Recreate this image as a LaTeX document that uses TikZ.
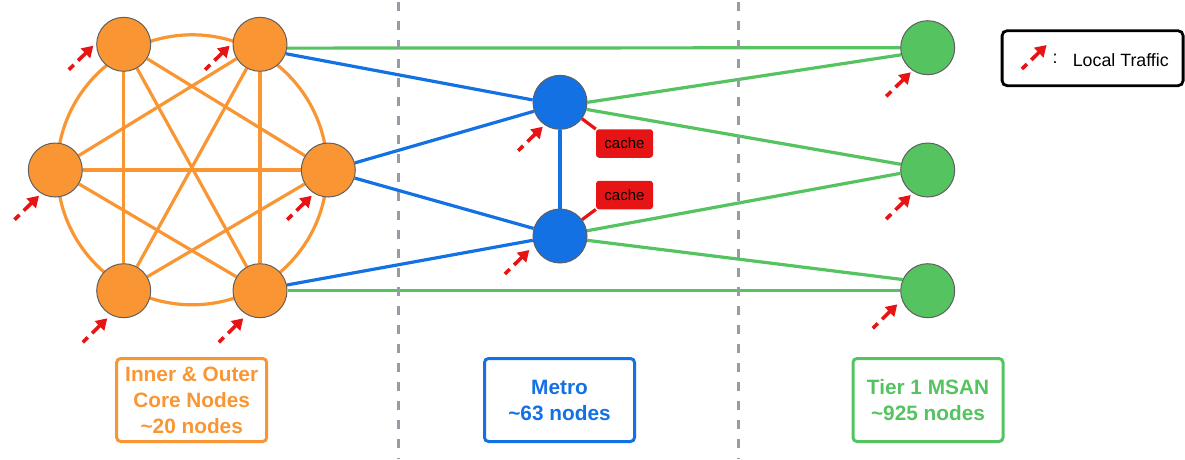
\documentclass[tikz,border=0pt]{standalone}
\usepackage{fontspec}
\setmainfont{Liberation Sans}
\usetikzlibrary{arrows.meta,backgrounds}

\definecolor{coreorange}{RGB}{249,150,51}
\definecolor{metroblue}{RGB}{20,113,227}
\definecolor{msangreen}{RGB}{84,195,96}
\definecolor{trafficred}{RGB}{230,20,20}
\definecolor{divider}{RGB}{150,155,165}
\definecolor{rimgray}{RGB}{95,95,95}

% local traffic arrow ending at an offset (dx,dy) from a node centre
\newcommand\inflow[3]{%
  \draw[traffic] ([shift={(#2-24.5,#3+24)}]#1.center) -- ([shift={(#2,#3)}]#1.center);}

\begin{document}
\begin{tikzpicture}[x=1pt,y=-1pt,
  site/.style={circle,draw=rimgray,line width=1pt,minimum size=54pt,inner sep=0pt},
  core/.style={site,fill=coreorange},
  metro/.style={site,fill=metroblue},
  msan/.style={site,fill=msangreen},
  link/.style={line width=3.2pt},
  corelink/.style={link,draw=coreorange},
  metrolink/.style={link,draw=metroblue},
  msanlink/.style={link,draw=msangreen},
  cachelink/.style={link,draw=trafficred},
  cachebox/.style={fill=trafficred,rounded corners=3pt,minimum width=57pt,
    minimum height=28.5pt,inner sep=0pt,font=\fontsize{15}{17}\selectfont},
  tierbox/.style={draw=#1,text=#1,line width=3pt,rounded corners=4pt,
    minimum width=150pt,minimum height=83pt,align=center,
    font=\bfseries\fontsize{20.8}{26}\selectfont},
  traffic/.style={draw=trafficred,line width=3.6pt,
    dash pattern=on 7pt off 6pt on 30pt off 1pt,
    -{Triangle[length=11pt,width=13pt]}},
  divide/.style={draw=divider,line width=3pt,dash pattern=on 9pt off 10pt},
]
\useasboundingbox (0,0) rectangle (1185,459);

% tier dividers
\coordinate (d1top) at (398,2);
\coordinate (d1bot) at (398,459);
\coordinate (d2top) at (738,2);
\coordinate (d2bot) at (738,459);
\draw[divide] (d1top) -- (d1bot);
\draw[divide] (d2top) -- (d2bot);

% core ring
\node[core] (o1) at (123.7,44.3) {};
\node[core] (o2) at (260,44.3) {};
\node[core] (o3) at (328.3,170) {};
\node[core] (o4) at (55.3,170) {};
\node[core] (o5) at (123.7,290.7) {};
\node[core] (o6) at (260,290.7) {};
\coordinate (ring) at (192.2,169.8);

% metro
\node[metro] (m1) at (560,102.3) {};
\node[metro] (m2) at (560,236) {};
\node[cachebox] (c1) at (624.5,143.5) {cache};
\node[cachebox] (c2) at (624.5,195) {cache};

% tier 1 MSAN
\node[msan] (g1) at (927.7,47.7) {};
\node[msan] (g2) at (927.7,170) {};
\node[msan] (g3) at (927.7,290.7) {};

\begin{scope}[on background layer]
  \draw[corelink] (ring) circle[radius=135];
  \foreach \a/\b in {o1/o5,o2/o6,o4/o3,o1/o3,o1/o6,o2/o4,o2/o5,o5/o3,o6/o4}
    \draw[corelink] (\a) -- (\b);
  \draw[msanlink] (o2.-8) -- (g1.west);
  \draw[msanlink] (o6.east) -- (g3.west);
  \draw[msanlink] (m1.east) -- (g1.195);
  \draw[msanlink] (m1.-15) -- (g2.168);
  \draw[msanlink] (m2.11) -- (g2.187);
  \draw[msanlink] (m2.-9) -- (g3.156);
  \draw[metrolink] (o2.-20) -- (m1.175);
  \draw[metrolink] (o3.15) -- (m1.199);
  \draw[metrolink] (o3.-17) -- (m2.164);
  \draw[metrolink] (o6.12) -- (m2.189);
  \draw[metrolink] (m1.south) -- (m2.north);
  \draw[cachelink] (m1) -- (c1.north west);
  \draw[cachelink] (m2) -- (c2.south west);
\end{scope}

% local traffic feeding each node
\inflow{o1}{-30.4}{1.4}
\inflow{o2}{-30.4}{1.4}
\inflow{o4}{-16.3}{25.7}
\inflow{o3}{-16.6}{25.7}
\inflow{o5}{-16.4}{27.6}
\inflow{o6}{-16.7}{27.6}
\inflow{m1}{-17.3}{24.4}
\inflow{m2}{-30.7}{14}
\inflow{g1}{-17}{24.6}
\inflow{g2}{-17}{25}
\inflow{g3}{-30.4}{13.6}

% tier captions
\node[tierbox=coreorange] (corelabel) at (191.7,400)
  {Inner \& Outer\\Core Nodes\\\textasciitilde20 nodes};
\node[tierbox=metroblue] (metrolabel) at (559.5,400)
  {Metro\\\textasciitilde63 nodes};
\node[tierbox=msangreen] (msanlabel) at (928,400)
  {Tier 1 MSAN\\\textasciitilde925 nodes};

% legend
\node[draw=black,line width=2.8pt,rounded corners=5pt,minimum width=181pt,
  minimum height=55pt,inner sep=0pt] (legend) at (1092.6,58.2) {};
\draw[traffic] ([shift={(-70.7,10.8)}]legend.center) -- ([shift={(-46,-13.2)}]legend.center);
\node[inner sep=0pt,font=\fontsize{17.8}{20}\selectfont] (legendcolon)
  at ([shift={(-37.6,1)}]legend.center) {:};
\node[anchor=west,inner sep=0pt,font=\fontsize{17.8}{20}\selectfont] (legendtext)
  at ([shift={(-20,2)}]legend.center) {Local Traffic};
\end{tikzpicture}
\end{document}
